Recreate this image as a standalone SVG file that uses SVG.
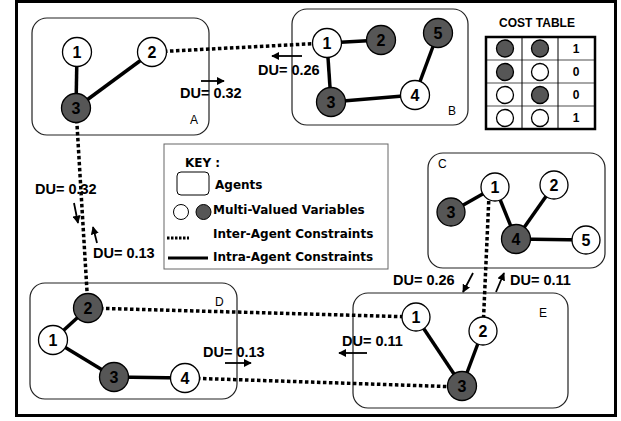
<svg xmlns="http://www.w3.org/2000/svg" width="621" height="421" viewBox="0 0 621 421">
<defs>
<marker id="ah" viewBox="0 0 10 10" refX="9" refY="5" markerWidth="4.5" markerHeight="4.5" orient="auto" markerUnits="strokeWidth">
<path d="M0,0 L10,5 L0,10 z" fill="#000"/>
</marker>
</defs>
<style>
.agent{fill:none;stroke:#222;stroke-width:1.2}
.inter{stroke:#000;stroke-width:3.5;stroke-dasharray:3.5 2.5;fill:none}
.intra{stroke:#000;stroke-width:3.5;fill:none}
.w{fill:#fff;stroke:#000;stroke-width:1.3}
.d{fill:#565656;stroke:#000;stroke-width:1.3}
.num{font-family:"Liberation Sans",Arial,sans-serif;font-weight:bold;font-size:16px;text-anchor:middle;fill:#000}
.lbl{font-family:"Liberation Sans",Arial,sans-serif;font-size:12px;fill:#000}
.du{font-family:"Liberation Sans",Arial,sans-serif;font-weight:bold;font-size:14.5px;fill:#000}
.arr{stroke:#000;stroke-width:1.8;fill:none;marker-end:url(#ah)}
.key{font-family:"DejaVu Sans",Verdana,sans-serif;font-weight:bold;font-size:12px;fill:#000}
.tn{font-family:"Liberation Sans",Arial,sans-serif;font-weight:bold;font-size:12px;text-anchor:middle;fill:#000}
</style>
<rect x="0" y="0" width="621" height="421" fill="#fff"/>
<rect x="16.5" y="1.5" width="599" height="414" fill="none" stroke="#000" stroke-width="3"/>

<!-- agent boxes -->
<g id="agentA"><rect class="agent" x="32" y="18" width="177" height="117" rx="15"/><text class="lbl" x="190" y="124">A</text></g>
<g id="agentB"><rect class="agent" x="292" y="9" width="176" height="116" rx="15"/><text class="lbl" x="448" y="115">B</text></g>
<g id="agentC"><rect class="agent" x="428" y="153" width="177" height="115" rx="15"/><text class="lbl" x="438" y="168">C</text></g>
<g id="agentD"><rect class="agent" x="30" y="283" width="207" height="116" rx="15"/><text class="lbl" x="215" y="306">D</text></g>
<g id="agentE"><rect class="agent" x="353" y="293" width="215" height="115" rx="15"/><text class="lbl" x="539" y="317">E</text></g>

<!-- connectors -->
<g id="connectors">
<line class="inter" x1="152" y1="52" x2="327" y2="43"/>
<line class="inter" x1="76" y1="108" x2="88" y2="308"/>
<line class="inter" x1="88" y1="308" x2="416" y2="317"/>
<line class="inter" x1="185" y1="378" x2="462" y2="387"/>
<line class="inter" x1="489" y1="195" x2="483" y2="330"/>
<line class="intra" x1="77" y1="52" x2="76" y2="108"/>
<line class="intra" x1="152" y1="52" x2="76" y2="108"/>
<line class="intra" x1="327" y1="43" x2="381" y2="40"/>
<line class="intra" x1="327" y1="43" x2="331" y2="102"/>
<line class="intra" x1="331" y1="102" x2="415" y2="95"/>
<line class="intra" x1="415" y1="95" x2="438" y2="33"/>
<line class="intra" x1="451" y1="212" x2="495" y2="187"/>
<line class="intra" x1="495" y1="187" x2="516" y2="239"/>
<line class="intra" x1="554" y1="185" x2="516" y2="239"/>
<line class="intra" x1="516" y1="239" x2="586" y2="240"/>
<line class="intra" x1="88" y1="308" x2="53" y2="340"/>
<line class="intra" x1="53" y1="340" x2="114" y2="377"/>
<line class="intra" x1="114" y1="377" x2="185" y2="378"/>
<line class="intra" x1="416" y1="317" x2="462" y2="386"/>
<line class="intra" x1="483" y1="330" x2="462" y2="386"/>
</g>

<!-- nodes -->
<g id="A1"><circle class="w" cx="77" cy="52" r="14.5"/><text class="num" x="77" y="58">1</text></g>
<g id="A2"><circle class="w" cx="152" cy="52" r="14.5"/><text class="num" x="152" y="58">2</text></g>
<g id="A3"><circle class="d" cx="76" cy="108" r="14.5"/><text class="num" x="76" y="114">3</text></g>

<g id="B1"><circle class="w" cx="327" cy="43" r="14.5"/><text class="num" x="327" y="49">1</text></g>
<g id="B2"><circle class="d" cx="381" cy="40" r="14.5"/><text class="num" x="381" y="46">2</text></g>
<g id="B3"><circle class="d" cx="331" cy="102" r="14.5"/><text class="num" x="331" y="108">3</text></g>
<g id="B4"><circle class="w" cx="415" cy="95" r="14.5"/><text class="num" x="415" y="101">4</text></g>
<g id="B5"><circle class="d" cx="438" cy="33" r="14.5"/><text class="num" x="438" y="39">5</text></g>

<g id="C1"><circle class="w" cx="495" cy="187" r="14"/><text class="num" x="495" y="193">1</text></g>
<g id="C2"><circle class="w" cx="554" cy="185" r="14"/><text class="num" x="554" y="191">2</text></g>
<g id="C3"><circle class="d" cx="451" cy="212" r="14"/><text class="num" x="451" y="218">3</text></g>
<g id="C4"><circle class="d" cx="516" cy="239" r="14.5"/><text class="num" x="516" y="245">4</text></g>
<g id="C5"><circle class="w" cx="586" cy="240" r="14"/><text class="num" x="586" y="246">5</text></g>

<g id="D1"><circle class="w" cx="53" cy="340" r="14.5"/><text class="num" x="53" y="346">1</text></g>
<g id="D2"><circle class="d" cx="88" cy="308" r="14.5"/><text class="num" x="88" y="314">2</text></g>
<g id="D3"><circle class="d" cx="114" cy="377" r="14.5"/><text class="num" x="114" y="383">3</text></g>
<g id="D4"><circle class="w" cx="185" cy="378" r="14.5"/><text class="num" x="185" y="384">4</text></g>

<g id="E1"><circle class="w" cx="416" cy="317" r="14"/><text class="num" x="416" y="323">1</text></g>
<g id="E2"><circle class="w" cx="483" cy="331" r="14"/><text class="num" x="483" y="337">2</text></g>
<g id="E3"><circle class="d" cx="462" cy="386" r="14.5"/><text class="num" x="462" y="392">3</text></g>

<!-- DU labels -->
<g id="du-labels">
<text class="du" x="180" y="98">DU= 0.32</text>
<line class="arr" x1="201" y1="81" x2="224" y2="81"/>
<text class="du" x="258" y="75">DU= 0.26</text>
<line class="arr" x1="302" y1="56" x2="272" y2="56"/>
<text class="du" x="35" y="194">DU= 0.32</text>
<line class="arr" x1="74" y1="203" x2="78" y2="223"/>
<text class="du" x="93" y="258">DU= 0.13</text>
<line class="arr" x1="97" y1="243" x2="93" y2="227"/>
<text class="du" x="203" y="357">DU= 0.13</text>
<line class="arr" x1="225" y1="363" x2="251" y2="363"/>
<text class="du" x="342" y="346">DU= 0.11</text>
<line class="arr" x1="367" y1="353" x2="339" y2="353"/>
<text class="du" x="393" y="285">DU= 0.26</text>
<line class="arr" x1="473" y1="273" x2="463" y2="292"/>
<text class="du" x="510" y="285">DU= 0.11</text>
<line class="arr" x1="496" y1="292" x2="504" y2="273"/>
</g>

<!-- key -->
<g id="key">
<rect x="164" y="144" width="224" height="125" fill="#fff" stroke="#666" stroke-width="1"/>
<text class="key" x="185" y="167" font-size="13">KEY :</text>
<rect x="177" y="172" width="32" height="23" rx="4" fill="#fff" stroke="#000" stroke-width="1"/>
<text class="key" x="215" y="189">Agents</text>
<circle cx="181" cy="212" r="7.5" fill="#fff" stroke="#000" stroke-width="1"/>
<circle cx="203.5" cy="212" r="7.5" fill="#565656" stroke="#000" stroke-width="1"/>
<text class="key" x="213" y="214">Multi-Valued Variables</text>
<line x1="167" y1="238" x2="189" y2="238" stroke="#000" stroke-width="3" stroke-dasharray="2.5 1.5"/>
<text class="key" x="213" y="238">Inter-Agent Constraints</text>
<line x1="168" y1="258" x2="208" y2="258" stroke="#000" stroke-width="3"/>
<text class="key" x="213" y="261">Intra-Agent Constraints</text>
</g>

<!-- cost table -->
<g id="cost-table">
<text class="tn" x="537" y="27" font-size="13">COST TABLE</text>
<line x1="486" y1="60" x2="595" y2="60" stroke="#888" stroke-width="1.5"/>
<line x1="486" y1="83" x2="595" y2="83" stroke="#888" stroke-width="1.5"/>
<line x1="486" y1="106" x2="595" y2="106" stroke="#888" stroke-width="1.5"/>
<line x1="522" y1="37" x2="522" y2="129" stroke="#000" stroke-width="1"/>
<line x1="558" y1="37" x2="558" y2="129" stroke="#000" stroke-width="1"/>
<rect x="486" y="37" width="109" height="92" fill="none" stroke="#000" stroke-width="2.5"/>
<circle class="d" cx="505" cy="48.5" r="8.5" stroke-width="1"/>
<circle class="d" cx="540" cy="48.5" r="8.5" stroke-width="1"/>
<text class="tn" x="576" y="53" font-size="11">1</text>
<circle class="d" cx="505" cy="72" r="8.5" stroke-width="1"/>
<circle class="w" cx="540" cy="72" r="8.5" stroke-width="1"/>
<text class="tn" x="576" y="76" font-size="11">0</text>
<circle class="w" cx="505" cy="95" r="8.5" stroke-width="1"/>
<circle class="d" cx="540" cy="95" r="8.5" stroke-width="1"/>
<text class="tn" x="576" y="99" font-size="11">0</text>
<circle class="w" cx="505" cy="118" r="8.5" stroke-width="1"/>
<circle class="w" cx="540" cy="118" r="8.5" stroke-width="1"/>
<text class="tn" x="576" y="122" font-size="11">1</text>
</g>
</svg>
